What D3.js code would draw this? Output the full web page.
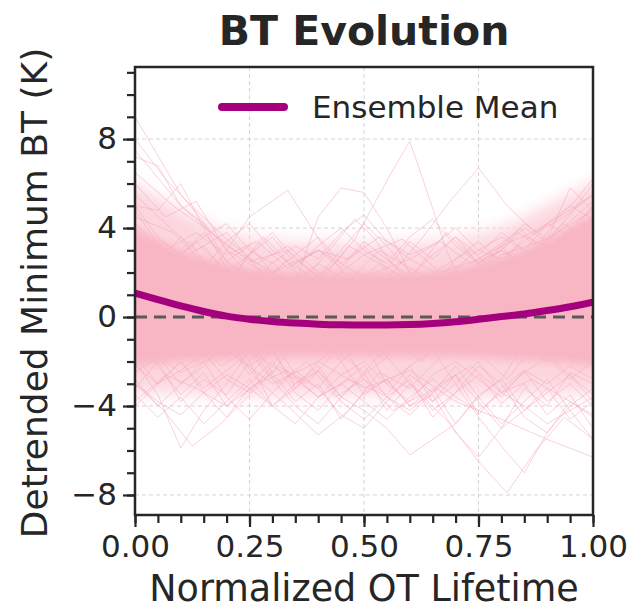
<!DOCTYPE html>
<html><head><meta charset="utf-8">
<script src="https://cdn.jsdelivr.net/npm/d3@7"></script>
<style>body{margin:0;background:#fff}svg{display:block}text{font-family:"DejaVu Sans",sans-serif;fill:#262626}</style>
</head><body><svg id="c" width="629" height="612"></svg>
<script>
// ---- data ----
const title = "BT Evolution";
const xLabel = "Normalized OT Lifetime";
const yLabel = "Detrended Minimum BT (K)";
const legendLabel = "Ensemble Mean";
const xTicks = [0, 0.25, 0.5, 0.75, 1.0];
const yTicks = [-8, -4, 0, 4, 8];
// ensemble mean sampled at x = 0, 0.05, ..., 1
const meanValues = [1.08, 0.78, 0.50, 0.25, 0.04, -0.10, -0.20, -0.27, -0.32, -0.35, -0.36, -0.36, -0.34, -0.29, -0.21, -0.10, 0.02, 0.14, 0.29, 0.46, 0.67];
// dense overlap envelopes sampled at x = 0, 0.1, ..., 1
const coreUpper = [4.0, 3.0, 2.4, 2.1, 2.0, 2.0, 2.0, 2.2, 2.7, 3.5, 4.6];
const coreLower = [-2.2, -2.0, -1.9, -1.8, -1.8, -1.8, -1.8, -1.8, -1.9, -2.0, -2.2];
const outerUpper = [6.0, 4.8, 3.8, 3.4, 3.3, 3.3, 3.3, 3.5, 4.0, 5.0, 6.0];
const outerLower = [-3.4, -3.4, -3.5, -3.5, -3.5, -3.5, -3.5, -3.5, -3.5, -3.4, -3.4];
// individual ensemble members (evenly spaced over normalized lifetime)
const m1 = [9.0, 5.5, 3.0, 1.8, 0.5, -0.5, 0.2, -1.0, 0.3, 1.5, 3.2];
const m2 = [7.2, 6.8, 5.0, 4.2, 2.5, 1.8, 0.6, -0.4, 0.8, 0.2, -1.2, -0.5, 0.4, -0.8, 0.1, 1.0, 0.2, 1.4, 2.0, 3.0, 4.0];
const m3 = [6.0, 4.5, 5.2, 3.0, 1.5, 0.2, -1.0, -0.6, -1.8, -0.5, 0.4, -0.2, 1.2, 2.2, 3.5, 5.0];
const m4 = [5.0, 4.8, 6.0, 4.0, 2.2, 1.0, 2.5, 1.2, -0.3, -1.0, 0.5, 1.0, -0.2, -1.5, -0.5, 0.3, -0.8, 0.2, 1.1, 2.0, 3.0];
const m5 = [4.5, 3.8, 2.0, 4.5, 5.7, 3.0, 0.8, -0.5, 0.3, -0.7, 0.5, 1.8, 3.5];
const m6 = [3.5, 2.8, 1.5, 0.6, -0.8, 0.4, 2.0, 1.5, 4.5, 5.8, 5.6, 4.0, 2.0, 0.5, -0.5, -1.0, 0.3, 1.5, 0.6, 2.2, 3.8];
const m7 = [2.0, 1.2, 0.3, -0.5, 0.6, 1.0, -0.2, 0.5, 1.5, 0.2, 1.8, 2.5, 3.5, 5.0, 6.5, 7.9, 5.5, 3.0, 1.2, -0.4, 0.5, -0.8, 0.3, 1.8, 2.5, 3.5];
const m8 = [1.5, 0.8, -0.5, 0.5, -1.0, 0.2, 1.0, -0.3, 0.8, 2.0, 3.5, 5.2, 6.7, 5.0, 3.8, 4.5, 5.5];
const m9 = [-1.0, 0.5, 1.5, 0.2, -0.8, 0.6, -0.2, 1.0, 0.3, -1.2, -0.4, 0.8, 2.0, 1.2, 0.4, 2.5, 3.0, 4.2, 3.5, 5.8, 4.8];
const m10 = [-2.0, -3.5, -5.9, -4.2, -3.0, -1.5, -2.2, -0.8, -1.6, 0.2, -0.5, -1.8, -0.6, 0.5, -0.3, -1.2, 0.2, -0.6, 0.8, 0.0, -1.0];
const m11 = [-1.5, -0.5, -2.0, -1.0, -2.8, -4.0, -5.3, -4.2, -2.5, -3.2, -1.8, -0.6, -1.5, 0.2, -0.8, -2.0];
const m12 = [0.5, -0.8, -1.5, -0.2, -1.0, -2.2, -1.5, -3.0, -2.4, -3.6, -4.2, -5.0, -6.2, -5.5, -4.8, -3.5, -2.8, -1.2, -2.0, -0.8, -1.5];
const m13 = [1.0, 0.2, -0.5, -1.2, -0.4, -2.0, -1.0, -2.6, -3.2, -2.0, -3.5, -2.8, -4.0, -3.5, -5.2, -6.3, -5.0, -3.2, -4.0, -2.5, -3.0];
const m14 = [-0.5, -1.5, -0.8, -2.2, -1.4, -3.0, -2.0, -3.6, -2.8, -4.2, -3.5, -4.8, -6.5, -7.9, -6.0, -4.5, -5.5];
const m15 = [0.2, -1.0, 0.5, -0.8, -1.8, -1.0, -2.5, -1.2, -0.5, -2.0, -1.2, -3.0, -2.2, -3.8, -3.0, -4.5, -5.8, -7.0, -5.2, -3.8, -4.5];
const m16 = [-1.0, -2.5, -1.5, -3.0, -2.0, -3.2, -2.4, -3.8, -4.6, -5.5, -6.3];
const m17 = [-3.0, -4.2, -5.8, -4.8, -3.5, -2.2, -3.0, -1.5, -2.5, -1.0, -2.0, -0.5, -1.6, -2.8, -1.2, -2.4, -3.5];
const m18 = [4.0, 3.2, 2.5, 1.2, 2.0, 0.8, 1.5, -0.2, 0.6, 1.8, 0.5, -0.5, 0.8, 1.6, 0.4, 1.2, 2.5, 1.8, 3.0, 3.8, 4.5];
const m19 = [-2.5, -1.8, -3.0, -2.2, -1.0, -2.6, -1.5, -3.2, -2.0, -1.2, -2.8, -3.5, -2.2, -1.5, -3.0, -2.0, -3.4, -2.5, -1.8, -2.8, -2.0];
const m20 = [3.0, 2.2, 3.4, 2.0, 1.2, 2.6, 1.5, 3.2, 2.4, 1.0, 2.2, 3.0, 1.8, 2.8, 4.0, 5.2];
const m21 = [-3.2, -2.0, -3.8, -2.8, -3.5, -2.0, -4.0, -3.0, -2.2, -3.6, -2.5, -4.2, -3.0, -3.8, -2.6, -4.4, -3.2, -2.4, -3.8, -3.0, -4.0];
const m22 = [6.5, 5.0, 3.8, 2.5, 3.0, 1.5, 2.8, 3.5, 2.0, 2.6, 3.8, 3.0, 4.5];
const m23 = [2.5, 3.5, 2.8, 3.8, 2.5, 3.2, 2.0, 2.8, 3.6, 2.4, 3.2, 2.2, 3.4, 2.6, 3.6, 2.8, 3.8, 3.0, 4.2, 3.6, 5.0];
const m24 = [-1.8, -3.0, -2.0, -3.4, -4.5, -3.2, -2.5, -3.8, -3.0, -4.6, -3.4, -2.8, -4.0, -3.2, -4.8, -3.6, -2.8, -4.2, -3.4, -2.6, -3.8];
const m25 = [5.5, 4.2, 3.0, 3.8, 2.2, 1.0, 2.4, 1.6, 3.0, 2.2, 1.4, 2.8, 3.6, 2.8, 4.2, 3.5];
const m26 = [-0.5, -2.2, -3.5, -2.5, -4.0, -3.0, -2.0, -3.4, -4.2, -3.0, -2.2, -3.6, -2.8, -4.5, -3.4, -2.6, -3.9, -3.0, -4.4, -3.5, -5.0];
const m27 = [7.5, 5.0, 3.2, 2.0, 3.0, 1.8, 2.6, 1.5, 2.8, 3.5, 4.8];
const m28 = [3.0, 2.0, 1.0, 2.2, 3.4, 4.2, 3.0, 2.2, 3.2, 4.0, 3.0, 2.4, 3.6, 4.4, 3.2, 2.4, 3.0, 4.0, 3.4, 4.6, 6.0];
const m29 = [-4.0, -3.0, -2.0, -3.2, -2.4, -1.6, -2.8, -4.0, -4.8, -3.6, -2.6, -1.8, -3.0, -4.2, -3.4, -2.2, -3.0, -4.5, -5.2, -4.0, -3.2];
const m30 = [8.0, 6.2, 4.8, 3.5, 2.4, 3.2, 2.0, 1.2, 2.4, 1.6, 0.8, 2.0, 3.0, 2.2, 3.4, 4.2];
const m31 = [1.0, 2.5, 3.6, 2.4, 1.4, 2.8, 3.8, 2.6, 1.8, 3.0, 4.2, 3.2, 2.0, 1.2, 2.6, 3.4, 2.4, 3.6, 2.8, 4.0, 3.0];
const m32 = [-2.8, -4.0, -3.0, -2.0, -3.6, -4.6, -3.4, -2.4, -3.2, -4.4, -5.0, -3.8, -2.6, -3.4, -2.2, -3.6, -4.8, -3.8, -2.8, -4.2, -5.5];
const m33 = [4.8, 3.6, 2.6, 3.4, 2.2, 1.4, 2.6, 3.6, 2.8, 1.8, 2.4, 3.4, 4.4, 3.6, 2.4, 1.6, 2.8, 3.8, 3.0, 2.2, 3.2, 4.0, 3.2, 4.4, 5.2, 6.2];
const m34 = [-3.5, -4.5, -3.6, -4.8, -3.8, -2.8, -4.0, -3.2, -2.4, -3.8, -4.6, -3.6, -4.4, -3.4, -2.6, -3.8, -5.0, -4.2, -3.2, -4.6, -3.8];
const m35 = [2.2, 1.4, 2.6, 3.2, 2.0, 2.8, 3.6, 2.4, 3.0, 2.2, 3.4, 2.6, 1.8, 2.8, 3.6, 2.4, 3.2, 2.0, 2.8, 3.4, 4.2];
const m36 = [-2.2, -3.0, -2.4, -1.6, -2.8, -3.4, -2.2, -2.8, -3.6, -2.6, -2.0, -3.0, -3.8, -2.6, -2.0, -2.8, -3.6, -2.4, -3.0, -2.2, -2.8];
const m37 = [4.2, 3.0, 3.8, 2.8, 3.4, 2.2, 3.0, 2.6, 3.6, 2.8, 3.4, 2.4, 3.2, 3.8, 4.6, 5.5];
const m38 = [-3.8, -2.6, -3.2, -4.0, -3.0, -2.4, -3.6, -2.8, -3.4, -4.2, -3.0, -2.2, -3.4, -2.8, -3.6, -4.4];
const m39 = [5.0, 3.6, 2.8, 3.6, 4.2, 3.0, 2.4, 3.2, 2.6, 3.8, 4.6, 3.4, 2.6, 3.2, 4.0, 3.0, 2.6, 3.4, 4.2, 5.0, 4.4];
const m40 = [-3.0, -3.8, -4.4, -3.4, -2.6, -3.2, -4.0, -4.8, -3.6, -3.0, -3.8, -4.6, -3.6, -2.8, -3.6, -4.2, -3.4, -4.0, -4.8, -4.2, -3.6];
const members = [m1,m2,m3,m4,m5,m6,m7,m8,m9,m10,m11,m12,m13,m14,m15,m16,m17,m18,m19,m20,
                 m21,m22,m23,m24,m25,m26,m27,m28,m29,m30,m31,m32,m33,m34,m35,m36,m37,m38,m39,m40];

// ---- layout ----
const L = 135, R = 593, T = 67, B = 515;
const svg = d3.select("#c");
const x = d3.scaleLinear().domain([0, 1]).range([L, R]);
const y = d3.scaleLinear().domain([-8.9, 11.24]).range([B, T]);
const toPts = arr => arr.map((v, i) => [i / (arr.length - 1), v]);

const defs = svg.append("defs");
defs.append("clipPath").attr("id", "pc")
  .append("rect").attr("x", L).attr("y", T).attr("width", R - L).attr("height", B - T);
const f1 = defs.append("filter").attr("id", "soft1").attr("x", "-5%").attr("y", "-20%").attr("width", "110%").attr("height", "140%");
f1.append("feGaussianBlur").attr("stdDeviation", "0 9");
const f2 = defs.append("filter").attr("id", "soft2").attr("x", "-5%").attr("y", "-20%").attr("width", "110%").attr("height", "140%");
f2.append("feGaussianBlur").attr("stdDeviation", "0 5");

// grid
const grid = svg.append("g");
grid.selectAll(".gx").data(xTicks).join("line")
  .attr("x1", d => x(d)).attr("x2", d => x(d)).attr("y1", T).attr("y2", B)
  .attr("stroke", "#d4d4d4").attr("stroke-width", 1).attr("stroke-dasharray", "4,3");
grid.selectAll(".gy").data(yTicks).join("line")
  .attr("x1", L).attr("x2", R).attr("y1", d => y(d)).attr("y2", d => y(d))
  .attr("stroke", "#d4d4d4").attr("stroke-width", 1).attr("stroke-dasharray", "4,3");

const plot = svg.append("g").attr("clip-path", "url(#pc)");
const band = (up, lo) => d3.area().curve(d3.curveMonotoneX)
  .x((d, i) => x(i / (up.length - 1))).y0((d, i) => y(lo[i])).y1((d, i) => y(up[i]))(up);

plot.append("path").attr("d", band(outerUpper, outerLower)).attr("fill", "#fcd6de").attr("filter", "url(#soft1)");
const line = d3.line().x(d => x(d[0])).y(d => y(d[1]));
plot.selectAll(".m").data(members).join("path")
  .attr("d", d => line(toPts(d))).attr("fill", "none")
  .attr("stroke", "#f3a6b9").attr("stroke-opacity", 0.5).attr("stroke-width", 1);
plot.append("path").attr("d", band(coreUpper, coreLower)).attr("fill", "#f8b5c3").attr("filter", "url(#soft2)");

// zero line
plot.append("line").attr("x1", L).attr("x2", R).attr("y1", y(0)).attr("y2", y(0))
  .attr("stroke", "#595959").attr("stroke-width", 3).attr("stroke-dasharray", "12,7");

// mean
plot.append("path").attr("d", d3.line().curve(d3.curveMonotoneX)
    .x((d, i) => x(i / (meanValues.length - 1))).y(d => y(d))(meanValues))
  .attr("fill", "none").attr("stroke", "#a4007e").attr("stroke-width", 7);

// frame
svg.append("rect").attr("x", L).attr("y", T).attr("width", R - L).attr("height", B - T)
  .attr("fill", "none").attr("stroke", "#262626").attr("stroke-width", 2.5);

// axes
svg.append("g").attr("transform", `translate(0,${B})`)
  .call(d3.axisBottom(x).tickValues(xTicks).tickFormat(d3.format(".2f")).tickSize(12).tickPadding(8));
svg.append("g").attr("transform", `translate(${L},0)`)
  .call(d3.axisLeft(y).tickValues(yTicks).tickFormat(d => d < 0 ? "\u2212" + Math.abs(d) : d).tickSize(12).tickPadding(6));
const xMinor = d3.range(0, 21).map(i => i / 20);
const yMinor = d3.range(-8, 12);
svg.append("g").attr("transform", `translate(0,${B})`)
  .call(d3.axisBottom(x).tickValues(xMinor).tickFormat("").tickSize(8));
svg.append("g").attr("transform", `translate(${L},0)`)
  .call(d3.axisLeft(y).tickValues(yMinor).tickFormat("").tickSize(8));
svg.selectAll(".domain").remove();
svg.selectAll(".tick line").attr("stroke", "#262626").attr("stroke-width", 2.2);
svg.selectAll(".tick text").attr("font-size", 31).attr("fill", "#262626")
  .attr("font-family", "DejaVu Sans");

// labels
svg.append("text").attr("x", 364).attr("y", 45).attr("text-anchor", "middle")
  .attr("font-size", 41).attr("font-weight", "bold").text(title);
svg.append("text").attr("x", 364).attr("y", 601).attr("text-anchor", "middle")
  .attr("font-size", 36.5).text(xLabel);
svg.append("text").attr("transform", `translate(47,${(T + B) / 2 + 2}) rotate(-90)`)
  .attr("text-anchor", "middle").attr("font-size", 36).text(yLabel);

// legend
svg.append("line").attr("x1", 222).attr("x2", 284).attr("y1", 107).attr("y2", 107)
  .attr("stroke", "#a4007e").attr("stroke-width", 8).attr("stroke-linecap", "round");
svg.append("text").attr("x", 312).attr("y", 118).attr("font-size", 31).text(legendLabel);
</script></body></html>
